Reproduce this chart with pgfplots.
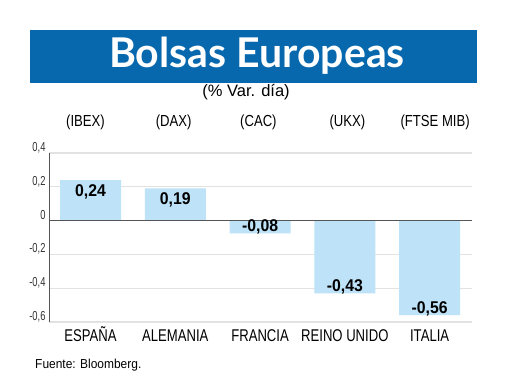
\documentclass[border=0pt]{standalone}
\usepackage{pgfplots}
\pgfplotsset{compat=1.18}
\usepackage{fontspec}
\setmainfont{Liberation Sans}
\newfontfamily\condfont[FakeStretch=0.77]{Liberation Sans}
\newfontfamily\tickfont[FakeStretch=0.72]{Liberation Sans}
\newfontfamily\subfont[FakeStretch=0.82]{Liberation Sans}
\newfontfamily\semicondfont[FakeStretch=0.92]{Liberation Sans}
\newfontfamily\valfont[FakeStretch=0.93]{Liberation Sans}
\newfontfamily\titlefont{Lato}
\definecolor{titleblue}{HTML}{0868AE}
\definecolor{barblue}{HTML}{BEE3F8}
\definecolor{gridgray}{HTML}{E2E2E2}
\definecolor{axisgray}{HTML}{555555}
\definecolor{ticktext}{HTML}{333333}
\begin{document}
\begin{tikzpicture}
\fill[white] (0pt,0pt) rectangle (520pt,390pt);
\useasboundingbox (0pt,0pt) rectangle (520pt,390pt);
\fill[titleblue] (30pt,307pt) rectangle (477pt,360pt);
\node[anchor=base, text=white, inner sep=0pt, font=\titlefont\bfseries\fontsize{41}{41}\selectfont] at (257pt,322pt) {Bolsas Europeas};
\node[anchor=base, inner sep=0pt, font=\fontsize{16.5}{16.5}\selectfont] at (246pt,293pt) {(\% Var. día)};
\node[anchor=base west, inner sep=0pt, font=\semicondfont\fontsize{13}{13}\selectfont] at (35pt,21pt) {Fuente: Bloomberg.};
\begin{axis}[
  at={(49pt,68pt)}, anchor=south west,
  width=423pt, height=169pt, scale only axis,
  xmin=-0.49, xmax=4.5, ymin=-0.6, ymax=0.4,
  axis line style={draw=none},
  ytick={-0.6,-0.4,-0.2,0,0.2,0.4},
  yticklabels={{-0,6},{-0,4},{-0,2},{0},{0,2},{0,4}},
  xtick={0,1,2,3,4},
  xticklabels={ESPAÑA,ALEMANIA,FRANCIA,REINO UNIDO,ITALIA},
  major tick length=0pt,
  ymajorgrids, grid style={gridgray, line width=1.2pt},
  yticklabel style={font=\tickfont\fontsize{13}{13}\selectfont, text=ticktext, anchor=base east, yshift=1.5pt},
  xticklabel style={font=\condfont\fontsize{17}{17}\selectfont, text=black, anchor=base, yshift=-19.7pt},
  clip=false,
  ybar, bar width=61pt,
  point meta=explicit symbolic,
  nodes near coords,
  nodes near coords style={font=\valfont\bfseries\fontsize{17}{17}\selectfont, text=black, inner sep=0pt},
]
\addplot[fill=barblue, draw=none, bar shift=0pt,
  every node near coord/.append style={anchor=base, yshift=-16pt}]
  coordinates {(0,0.24) [0,24] (1,0.19) [0,19]};
\addplot[fill=barblue, draw=none, bar shift=0pt,
  every node near coord/.append style={anchor=base, yshift=2pt}]
  coordinates {(2,-0.075) [-0,08] (3,-0.43) [-0,43] (4,-0.56) [-0,56]};
\draw[axisgray, line width=0.9pt] (axis cs:-0.49,0) -- (axis cs:4.5,0);
\draw[axisgray, line width=0.9pt] (rel axis cs:0,0) -- (rel axis cs:0,1);
\begin{scope}[font=\subfont\fontsize{16}{16}\selectfont]
\node[anchor=base] at (axis cs:-0.06,0.556) {(IBEX)};
\node[anchor=base] at (axis cs:0.98,0.556) {(DAX)};
\node[anchor=base] at (axis cs:1.98,0.556) {(CAC)};
\node[anchor=base] at (axis cs:3.03,0.556) {(UKX)};
\node[anchor=base] at (axis cs:4.065,0.556) {(FTSE MIB)};
\end{scope}
\end{axis}
\end{tikzpicture}
\end{document}
